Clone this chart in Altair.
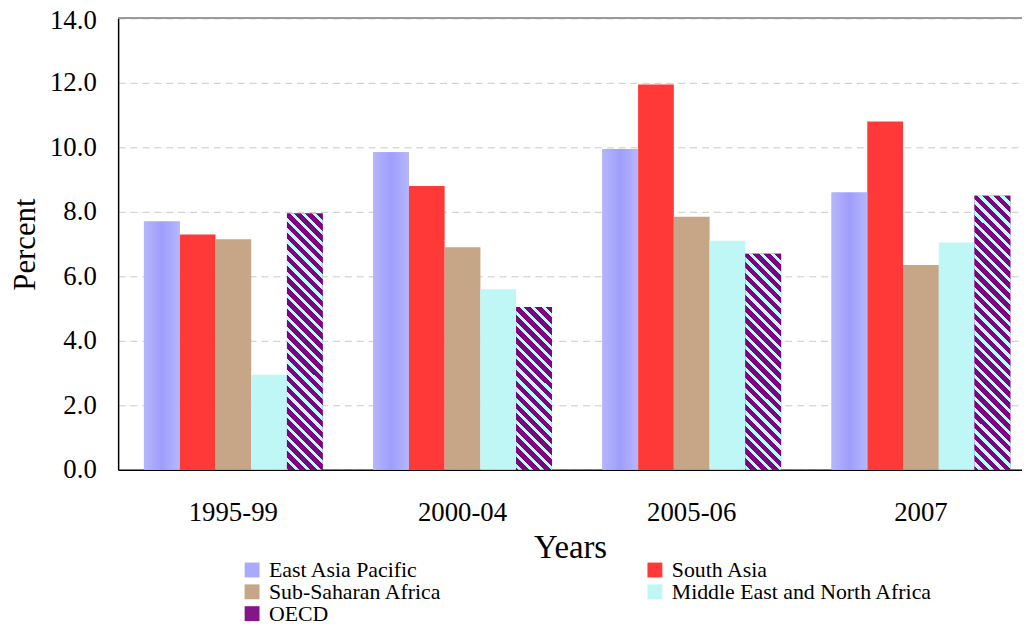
import altair as alt
import pandas as pd

categories = ["1995-99", "2000-04", "2005-06", "2007"]
series = ["East Asia Pacific", "South Asia", "Sub-Saharan Africa",
          "Middle East and North Africa", "OECD"]
east_asia_pacific = [7.7, 9.85, 9.95, 8.6]
south_asia = [7.3, 8.8, 11.95, 10.8]
sub_saharan_africa = [7.15, 6.9, 7.85, 6.35]
middle_east_north_africa = [2.95, 5.6, 7.1, 7.05]
oecd = [7.95, 5.05, 6.7, 8.5]
colors = ["#aaaafc", "#ff3838", "#c6a686", "#bff6f6", "#84168a"]

values = [east_asia_pacific, south_asia, sub_saharan_africa,
          middle_east_north_africa, oecd]
rows = []
for s, vals in zip(series, values):
    for c, v in zip(categories, vals):
        rows.append({"Years": c, "Region": s, "Percent": v})
df = pd.DataFrame(rows)

# legend is filled column by column: order so it reads row by row
legend_order = [series[0], series[2], series[4], series[1], series[3]]
legend_colors = [colors[series.index(s)] for s in legend_order]

FONT = "Liberation Serif"
HEIGHT = 455
YMAX = 14
BAR_W = 36.0

x_enc = alt.X("Years:N", sort=categories,
              scale=alt.Scale(paddingInner=0.22, paddingOuter=0.0818, align=0.688),
              axis=alt.Axis(title="Years", labelAngle=0, ticks=False,
                            labelPadding=30, titlePadding=6, titleFontSize=33,
                            domainColor="black", domainWidth=1.5))
xo_enc = alt.XOffset("Region:N", sort=series,
                     scale=alt.Scale(domain=series, paddingInner=0, paddingOuter=0))
y_enc = alt.Y("Percent:Q",
              scale=alt.Scale(domain=[0, YMAX], nice=False),
              axis=alt.Axis(title="Percent", values=[0, 2, 4, 6, 8, 10, 12, 14],
                            format=".1f", ticks=False, labelPadding=22,
                            labelOffset={"condition": {"test": "datum.value == 14",
                                                       "value": 2},
                                         "value": 0},
                            titlePadding=8, gridDash=[7, 5], gridColor="#c8c8c8",
                            domainColor="black", domainWidth=1.5))

bars = alt.Chart(df).mark_bar(stroke=None).encode(
    x=x_enc, xOffset=xo_enc, y=y_enc,
    color=alt.Color("Region:N", sort=legend_order,
                    scale=alt.Scale(domain=legend_order, range=legend_colors),
                    legend=alt.Legend(title=None, orient="none", legendX=124,
                                      legendY=545, columns=2, columnPadding=203,
                                      symbolType="square", symbolSize=225,
                                      symbolStrokeWidth=0, labelFontSize=22,
                                      labelFont=FONT, labelColor="black",
                                      labelOffset=6, rowPadding=0, labelLimit=400)),
)

eap_gradient = alt.LinearGradient(
    gradient="linear", x1=0, y1=0, x2=1, y2=0,
    stops=[alt.GradientStop(color="#b6b6fb", offset=0),
           alt.GradientStop(color="#9e9efb", offset=0.5),
           alt.GradientStop(color="#b6b6fb", offset=1)])

eap = alt.Chart(df).transform_filter(
    alt.datum.Region == series[0]
).mark_bar(fill=eap_gradient, stroke=None).encode(x=x_enc, xOffset=xo_enc, y=y_enc)


def stripe_fill(value, period=11.0, dark_frac=0.6):
    """Diagonal stripe fill (bounding-box gradient) for a bar of this value."""
    h = value / YMAX * HEIGHT
    w = BAR_W
    a = -w / (h + w)
    b = h / (h + w)
    n2 = a * a + b * b
    p = period / (h + w)
    stops = []
    k = 0
    while k * p < 1:
        s0 = k * p
        s1 = min(s0 + dark_frac * p, 1)
        s2 = min(s0 + p, 1)
        stops += [alt.GradientStop(color="#800080", offset=s0),
                  alt.GradientStop(color="#800080", offset=s1),
                  alt.GradientStop(color="#b4ffff", offset=s1),
                  alt.GradientStop(color="#b4ffff", offset=s2)]
        k += 1
    return alt.LinearGradient(gradient="linear", x1=1, y1=0,
                              x2=1 + a / n2, y2=b / n2, stops=stops)


oecd_layers = []
for cat, v in zip(categories, oecd):
    oecd_layers.append(
        alt.Chart(df).transform_filter(
            (alt.datum.Region == "OECD") & (alt.datum.Years == cat)
        ).mark_bar(fill=stripe_fill(v), stroke=None).encode(
            x=x_enc, xOffset=xo_enc, y=y_enc)
    )

top_line = alt.Chart(df).mark_rule(color="#9a9a9a", strokeWidth=1.5).encode(
    y=alt.datum(YMAX))

chart = alt.layer(bars, eap, *oecd_layers, top_line).properties(
    width=911, height=HEIGHT,
    autosize=alt.AutoSizeParams(type="none"),
    padding={"left": 111, "top": 8, "right": 0, "bottom": 154},
).configure_view(stroke=None).configure_axis(
    grid=False, labelFont=FONT, titleFont=FONT, labelFontSize=27, titleFontSize=31,
    labelColor="black", titleColor="black", titleFontWeight="normal"
).configure_axisY(grid=True)

chart.save("out.html", embed_options={"renderer": "svg", "actions": False})
